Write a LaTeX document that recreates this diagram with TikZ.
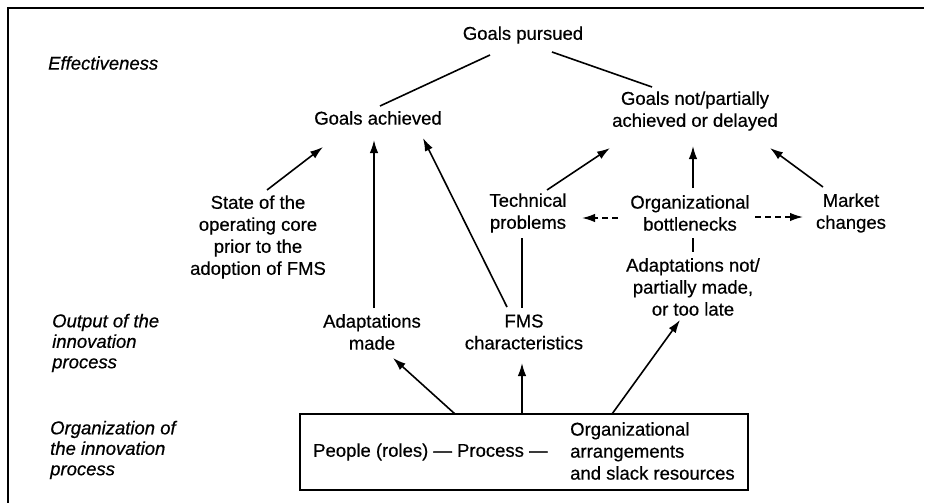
\documentclass[tikz,border=0pt]{standalone}
\usepackage{fontspec}
\setmainfont[FakeBold=0.5]{Liberation Sans}
\usetikzlibrary{arrows.meta}
\begin{document}
\begin{tikzpicture}[x=1pt,y=-1pt,
  lbl/.style={font=\fontsize{18.5}{22}\selectfont, align=center, inner sep=0},
  side/.style={font=\fontsize{18.5}{20.5}\selectfont\itshape, align=left, anchor=west, inner sep=0},
  conn/.style={line width=1.6pt},
  arr/.style={conn, -{Latex[length=13pt,width=8.5pt]}},
  dsh/.style={arr, dash pattern=on 6pt off 4pt}]
\useasboundingbox (0,0) rectangle (926,503);
\draw[line width=2pt] (8,503) -- (8,8) -- (924,8);
% side labels
\node[side] (eff) at (48,63) {Effectiveness};
\node[side] (outl) at (52,343) {Output of the\\innovation\\process};
\node[side] (orgl) at (50,450) {Organization of\\the innovation\\process};
% main nodes
\node[lbl] (gp) at (523,35) {Goals pursued};
\node[lbl] (ga) at (378,118) {Goals achieved};
\node[lbl] (gn) at (695,111) {Goals not/partially\\achieved or delayed};
\node[lbl] (state) at (258,237) {State of the\\operating core\\prior to the\\adoption of FMS};
\node[lbl] (tp) at (528,213) {Technical\\problems};
\node[lbl] (ob) at (690,213) {Organizational\\bottlenecks};
\node[lbl] (mc) at (851,213) {Market\\changes};
\node[lbl] (an) at (693,287) {Adaptations not/\\partially made,\\or too late};
\node[lbl] (am) at (372,332) {Adaptations\\made};
\node[lbl] (fms) at (524,332) {FMS\\characteristics};
\node[draw, line width=1.8pt, minimum width=448pt, minimum height=76pt, inner sep=0] (box) at (524,452) {};
\node[lbl, anchor=west] (ppl) at (313,452) {People (roles) --- Process ---};
\node[lbl, anchor=west, align=left] (oa) at (570,451) {Organizational\\arrangements\\and slack resources};
% connectors
\draw[conn] ([shift={(-33,20)}]gp.center) -- ([shift={(2,-12)}]ga.center);
\draw[conn] ([shift={(29,17)}]gp.center) -- ([shift={(-43,-24)}]gn.center);
\draw[arr] ([shift={(9,-47)}]state.center) -- ([shift={(-55,29)}]ga.center);
\draw[arr] ([shift={(2,-24)}]am.center) -- ([shift={(-4,22)}]ga.center);
\draw[arr] ([shift={(-17,-25)}]fms.center) -- ([shift={(45,20)}]ga.center);
\draw[arr] ([shift={(19,-23)}]tp.center) -- ([shift={(-85,37)}]gn.center);
\draw[arr] ([shift={(3,-25)}]ob.center) -- ([shift={(-2,35)}]gn.center);
\draw[arr] ([shift={(-28,-26)}]mc.center) -- ([shift={(75,37)}]gn.center);
\draw[conn] ([shift={(-6,25)}]tp.center) -- ([shift={(-2,-24)}]fms.center);
\draw[dsh] ([shift={(-72,5)}]ob.center) -- ([shift={(54,5)}]tp.center);
\draw[dsh] ([shift={(65,4)}]ob.center) -- ([shift={(-48,4)}]mc.center);
\draw[conn] ([shift={(3,25)}]ob.center) -- ([shift={(0,-35)}]an.center);
\draw[arr] ([shift={(-69,-38)}]box.center) -- ([shift={(21,26)}]am.center);
\draw[arr] ([shift={(-2,-38)}]box.center) -- ([shift={(-2,31)}]fms.center);
\draw[arr] ([shift={(88,-38)}]box.center) -- ([shift={(-13,33)}]an.center);
\end{tikzpicture}
\end{document}
